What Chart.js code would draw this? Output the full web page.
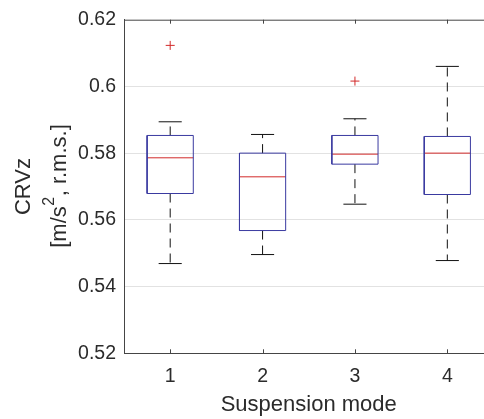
<!DOCTYPE html>
<html>
<head>
<meta charset="utf-8">
<script src="https://cdn.jsdelivr.net/npm/chart.js@4"></script>
<style>
  html, body { margin: 0; padding: 0; background: #fff; overflow: hidden; }
  #wrap { width: 500px; height: 419px; }
</style>
</head>
<body>
<div id="wrap"><canvas id="boxChart" width="500" height="419"></canvas></div>
<script>
// box plot statistics per suspension mode
const modes = [1, 2, 3, 4];
const whiskerLow = [0.5469, 0.5496, 0.5647, 0.5478];
const q1 = [0.5679, 0.5568, 0.5767, 0.5676];
const median = [0.5786, 0.5729, 0.5797, 0.5800];
const q3 = [0.5853, 0.5800, 0.5853, 0.5850];
const whiskerHigh = [0.5894, 0.5856, 0.5903, 0.6060];
const outliers = [[0.6123], [], [0.6016], []];
const yTicks = [0.52, 0.54, 0.56, 0.58, 0.6, 0.62];

const BOX_W = 0.25;   // half width of box
const CAP_W = 0.125;  // half width of whisker cap
const FONT = "'Liberation Sans', Arial, sans-serif";
const TEXT = "#2b2b2b";
const AXIS = "#454545";

// build segment lists, null y breaks the line between pieces
const gap = x => ({ x: x, y: null });
const boxPts = [], whiskerPts = [], capPts = [], medianPts = [], outlierPts = [];
modes.forEach((m, i) => {
  boxPts.push({ x: m - BOX_W, y: q1[i] }, { x: m + BOX_W, y: q1[i] }, { x: m + BOX_W, y: q3[i] },
              { x: m - BOX_W, y: q3[i] }, { x: m - BOX_W, y: q1[i] }, gap(m));
  whiskerPts.push({ x: m, y: q3[i] }, { x: m, y: whiskerHigh[i] }, gap(m),
                  { x: m, y: q1[i] }, { x: m, y: whiskerLow[i] }, gap(m));
  capPts.push({ x: m - CAP_W, y: whiskerHigh[i] }, { x: m + CAP_W, y: whiskerHigh[i] }, gap(m),
              { x: m - CAP_W, y: whiskerLow[i] }, { x: m + CAP_W, y: whiskerLow[i] }, gap(m));
  medianPts.push({ x: m - BOX_W, y: median[i] }, { x: m + BOX_W, y: median[i] }, gap(m));
  outliers[i].forEach(v => outlierPts.push({ x: m, y: v }));
});

function segs(data, color, dash) {
  return {
    data, showLine: true, spanGaps: false, borderColor: color, borderWidth: 1,
    borderDash: dash || [], pointRadius: 0, fill: false, tension: 0
  };
}

// frame, inward ticks and axis titles (MATLAB look)
const frame = {
  id: "frame",
  afterDraw(chart) {
    const { ctx, chartArea: a, scales } = chart;
    ctx.save();
    ctx.strokeStyle = AXIS;
    ctx.lineWidth = 1;
    ctx.beginPath();
    ctx.moveTo(a.left, a.top + 0.5);
    ctx.lineTo(a.right, a.top + 0.5);
    modes.forEach(m => {
      const x = Math.round(scales.x.getPixelForValue(m)) + 0.5;
      ctx.moveTo(x, a.bottom); ctx.lineTo(x, a.bottom - 4);
      ctx.moveTo(x, a.top); ctx.lineTo(x, a.top + 4);
    });
    ctx.stroke();

    ctx.fillStyle = TEXT;
    ctx.textAlign = "center";
    ctx.textBaseline = "alphabetic";
    ctx.font = "22px " + FONT;
    ctx.fillText("Suspension mode", (a.left + a.right) / 2, 411);

    // y title, two rotated lines
    const cy = (a.top + a.bottom) / 2;
    ctx.translate(0, cy);
    ctx.rotate(-Math.PI / 2);
    ctx.textBaseline = "middle";
    ctx.fillText("CRVz", 0, 24);
    const p1 = "[m/s", p2 = "2", p3 = ", r.m.s.]";
    ctx.font = "22px " + FONT;
    const w1 = ctx.measureText(p1).width, w3 = ctx.measureText(p3).width;
    ctx.font = "16px " + FONT;
    const w2 = ctx.measureText(p2).width;
    let x0 = -(w1 + w2 + w3) / 2;
    ctx.textAlign = "left";
    ctx.font = "22px " + FONT;
    ctx.fillText(p1, x0, 60);
    ctx.font = "16px " + FONT;
    ctx.fillText(p2, x0 + w1 + 0.5, 50);
    ctx.font = "22px " + FONT;
    ctx.fillText(p3, x0 + w1 + w2 + 1, 60);
    ctx.restore();
  }
};

new Chart(document.getElementById("boxChart"), {
  type: "scatter",
  data: {
    datasets: [
      segs(boxPts, "#3a3aa0"),
      segs(whiskerPts, "#111", [9, 6]),
      segs(capPts, "#111"),
      segs(medianPts, "#d22a2a"),
      {
        data: outlierPts, showLine: false, pointStyle: "cross", pointRadius: 4.5,
        borderColor: "#d22a2a", borderWidth: 1, backgroundColor: "#d22a2a"
      }
    ]
  },
  options: {
    responsive: false,
    animation: false,
    layout: { padding: { left: 0, right: 6.5, top: 18.3, bottom: 0 } },
    plugins: { legend: { display: false }, tooltip: { enabled: false } },
    scales: {
      x: {
        type: "linear", min: 0.5, max: 4.5,
        afterBuildTicks: s => { s.ticks = modes.map(v => ({ value: v })); },
        afterFit: s => { s.height = 65.7; },
        grid: { display: false },
        border: { display: true, color: AXIS, width: 1 },
        ticks: { color: TEXT, font: { family: FONT, size: 19.5 }, padding: 4, callback: v => String(v) }
      },
      y: {
        min: 0.52, max: 0.62,
        afterBuildTicks: s => { s.ticks = yTicks.map(v => ({ value: v })); },
        afterFit: s => { s.width = 124; },
        grid: {
          drawTicks: false,
          color: c => (c.tick && (c.tick.value <= 0.52 || c.tick.value >= 0.62)) ? "rgba(0,0,0,0)" : "#e2e2e2"
        },
        border: { display: true, color: AXIS, width: 1 },
        ticks: { color: TEXT, font: { family: FONT, size: 19.5 }, padding: 8, callback: v => String(+v.toFixed(2)) }
      }
    }
  },
  plugins: [frame]
});
</script>
</body>
</html>
